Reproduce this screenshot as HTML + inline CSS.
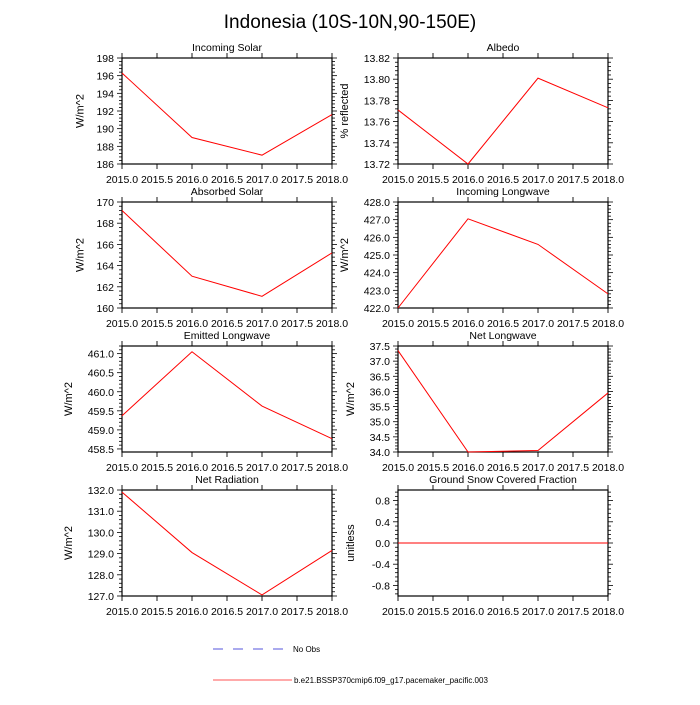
<!DOCTYPE html>
<html><head><meta charset="utf-8"><style>
body{margin:0;background:#fff;width:700px;height:700px;overflow:hidden;font-family:"Liberation Sans",sans-serif}
svg text{font-family:"Liberation Sans",sans-serif}
</style></head><body>
<svg id="chart" width="700" height="700" xmlns="http://www.w3.org/2000/svg">
<text x="350" y="28" font-size="19" text-anchor="middle">Indonesia (10S-10N,90-150E)</text>
<g>
<line x1="213" y1="649" x2="287" y2="649" stroke="#5555dd" stroke-dasharray="10,10" stroke-width="1"/>
<text x="293" y="652" font-size="8">No Obs</text>
<line x1="213" y1="680" x2="292" y2="680" stroke="#ff5555" stroke-width="1"/>
<text x="294" y="683" font-size="8">b.e21.BSSP370cmip6.f09_g17.pacemaker_pacific.003</text>
</g>
</svg>
<script>
const years=[2015,2016,2017,2018];
const xTicks=[2015.0,2015.5,2016.0,2016.5,2017.0,2017.5,2018.0];
const titles=["Incoming Solar","Albedo","Absorbed Solar","Incoming Longwave","Emitted Longwave","Net Longwave","Net Radiation","Ground Snow Covered Fraction"];
const yTitles=["W/m^2","% reflected","W/m^2","W/m^2","W/m^2","W/m^2","W/m^2","unitless"];
const vIncSolar=[196.3,189.0,187.0,191.6];
const vAlbedo=[13.771,13.720,13.801,13.773];
const vAbsSolar=[169.2,163.0,161.1,165.2];
const vIncLW=[422.0,427.05,425.6,422.8];
const vEmitLW=[459.37,461.05,459.625,458.77];
const vNetLW=[37.35,34.0,34.05,35.95];
const vNetRad=[131.9,129.05,127.05,129.15];
const vSnow=[0,0,0,0];
const yMin=[186,13.72,160,422,458.42,34,127,-1];
const yMax=[198,13.82,170,428,461.2,37.5,132,1];
const yTickStart=[186,13.72,160,422,458.5,34,127,-0.8];
const yTickStep=[2,0.02,2,1,0.5,0.5,1,0.4];
const yTickEnd=[198,13.82,170,428,461,37.5,132,0.8];
const yDec=[0,2,0,1,1,1,1,1];
const series=[vIncSolar,vAlbedo,vAbsSolar,vIncLW,vEmitLW,vNetLW,vNetRad,vSnow];
const svg=document.getElementById('chart');
const NS='http://www.w3.org/2000/svg';
function mk(t,a,p){const e=document.createElementNS(NS,t);for(const k in a)e.setAttribute(k,a[k]);(p||svg).appendChild(e);return e;}
for(let i=0;i<8;i++){
 const col=i%2,row=Math.floor(i/2);
 const L=col?398:122,R=col?608:332,T=58+row*144,B=T+106;
 const g=mk('g',{});
 
 
 const xs=v=>L+(v-2015)/3*(R-L);
 const ys=v=>B-(v-yMin[i])/(yMax[i]-yMin[i])*(B-T);
 const box=mk('rect',{x:L,y:T,width:R-L,height:B-T,fill:'none',stroke:'#000','stroke-width':1.2},g);
 
 
 const tt=mk('text',{x:(L+R)/2,y:T-7,'font-size':10.5,'text-anchor':'middle'},g);tt.textContent=titles[i];
 
 
 let maxChars=0;
 for(let v=yTickStart[i];v<=yTickEnd[i]+1e-9;v+=yTickStep[i]){maxChars=Math.max(maxChars,v.toFixed(yDec[i]).length);}
 const yx=L-8-maxChars*5.8-13;
 const yt=mk('text',{x:0,y:0,'font-size':11,'text-anchor':'middle',transform:`translate(${yx},${(T+B)/2}) rotate(-90)`},g);yt.textContent=yTitles[i];
 
 
 xTicks.forEach(v=>{const x=xs(v);
  mk('line',{x1:x,y1:B,x2:x,y2:B+5,stroke:'#000','stroke-width':0.9},g);
  mk('line',{x1:x,y1:T,x2:x,y2:T-5,stroke:'#000','stroke-width':0.9},g);
  const t=mk('text',{x:x,y:B+19,'font-size':10.5,'text-anchor':'middle'},g);t.textContent=v.toFixed(1);
  
  });
 const st=yTickStep[i]/5;
 for(let v=yTickStart[i]-yTickStep[i];v<=yMax[i]+1e-9;v+=st){ if(v<yMin[i]-1e-9)continue;
  const k=Math.round((v-yTickStart[i])/st);const y=ys(v);const len=k%5==0?5:3;
  mk('line',{x1:L,y1:y,x2:L-len,y2:y,stroke:'#000','stroke-width':0.8},g);
  mk('line',{x1:R,y1:y,x2:R+len,y2:y,stroke:'#000','stroke-width':0.8},g);}
 for(let v=yTickStart[i];v<=yTickEnd[i]+1e-9;v+=yTickStep[i]){const t=mk('text',{x:L-8,y:ys(v)+4,'font-size':10.5,'text-anchor':'end'},g);t.textContent=v.toFixed(yDec[i]);
  
  }
 const pts=series[i].map((v,j)=>xs(years[j])+','+ys(v)).join(' ');
 const pl=mk('polyline',{points:pts,fill:'none',stroke:'#ff0000','stroke-width':1},g);
 
 
}
</script>
</body></html>
